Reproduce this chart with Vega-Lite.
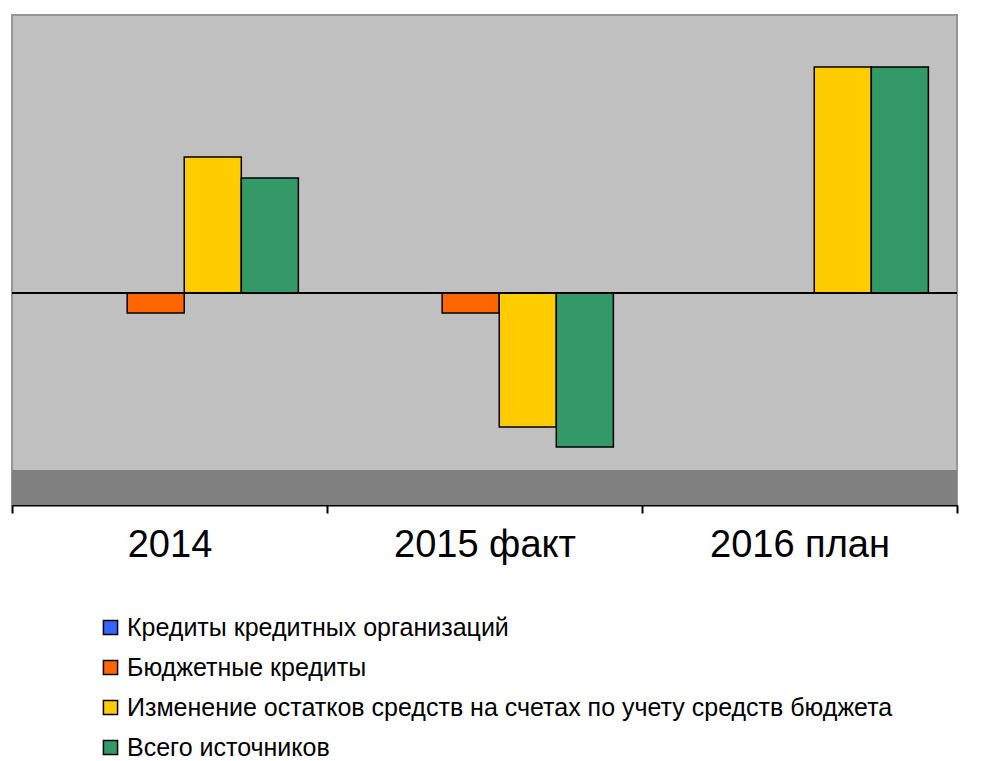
{
  "$schema": "https://vega.github.io/schema/vega-lite/v6.json",
  "autosize": "none",
  "width": 945,
  "height": 490,
  "padding": {"left": 12, "top": 15, "right": 35, "bottom": 256},
  "background": "white",
  "config": {
    "font": "Liberation Sans",
    "view": {"fill": "#C0C0C0", "stroke": "#969696", "strokeWidth": 2}
  },
  "datasets": {
    "bars": [
      {"year": "2014", "series": "Кредиты кредитных организаций", "value": 0},
      {"year": "2014", "series": "Бюджетные кредиты", "value": -20},
      {"year": "2014", "series": "Изменение остатков средств на счетах по учету средств бюджета", "value": 136},
      {"year": "2014", "series": "Всего источников", "value": 115},
      {"year": "2015 факт", "series": "Кредиты кредитных организаций", "value": 0},
      {"year": "2015 факт", "series": "Бюджетные кредиты", "value": -20},
      {"year": "2015 факт", "series": "Изменение остатков средств на счетах по учету средств бюджета", "value": -134},
      {"year": "2015 факт", "series": "Всего источников", "value": -154},
      {"year": "2016 план", "series": "Кредиты кредитных организаций", "value": 0},
      {"year": "2016 план", "series": "Бюджетные кредиты", "value": 0},
      {"year": "2016 план", "series": "Изменение остатков средств на счетах по учету средств бюджета", "value": 226},
      {"year": "2016 план", "series": "Всего источников", "value": 226}
    ]
  },
  "layer": [
    {
      "data": {"values": [{"part": "floor"}]},
      "mark": {"type": "rect", "fill": "#808080"},
      "encoding": {
        "y": {"datum": -212, "type": "quantitative", "scale": {"domain": [-212, 278], "nice": false, "zero": false}, "axis": null},
        "y2": {"datum": -177}
      }
    },
    {
      "data": {"name": "bars"},
      "mark": {"type": "bar", "stroke": "black", "strokeWidth": 1.5},
      "encoding": {
        "x": {
          "field": "year", "type": "nominal", "sort": null,
          "scale": {"paddingInner": 0, "paddingOuter": 0},
          "axis": {
            "title": null, "labelAngle": 0, "labelFontSize": 38, "labelColor": "black",
            "labelLimit": 400, "labelPadding": 13, "tickBand": "extent", "tickSize": 8,
            "tickColor": "black", "tickWidth": 2, "domainColor": "black", "domainWidth": 2, "grid": false
          }
        },
        "xOffset": {
          "field": "series", "type": "nominal", "sort": null,
          "scale": {"paddingInner": 0, "paddingOuter": 0.76, "align": 0.67}
        },
        "y": {"field": "value", "type": "quantitative", "scale": {"domain": [-212, 278], "nice": false, "zero": false}, "axis": null},
        "y2": {"datum": 0},
        "fill": {
          "field": "series", "type": "nominal", "sort": null,
          "scale": {
            "domain": ["Кредиты кредитных организаций", "Бюджетные кредиты", "Изменение остатков средств на счетах по учету средств бюджета", "Всего источников"],
            "range": ["#3366FF", "#FF6600", "#FFCC00", "#339966"]
          },
          "legend": {
            "title": null, "orient": "none", "legendX": 86, "legendY": 600,
            "direction": "vertical", "symbolType": "square", "symbolSize": 200,
            "symbolStrokeColor": "black", "symbolStrokeWidth": 1.5, "symbolOpacity": 1,
            "labelFontSize": 25, "labelColor": "black", "labelLimit": 900,
            "rowPadding": 14, "labelOffset": 4
          }
        }
      }
    },
    {
      "data": {"values": [{"part": "zero"}]},
      "mark": {"type": "rule", "color": "black", "strokeWidth": 2},
      "encoding": {
        "y": {"datum": 0, "type": "quantitative"}
      }
    }
  ]
}
